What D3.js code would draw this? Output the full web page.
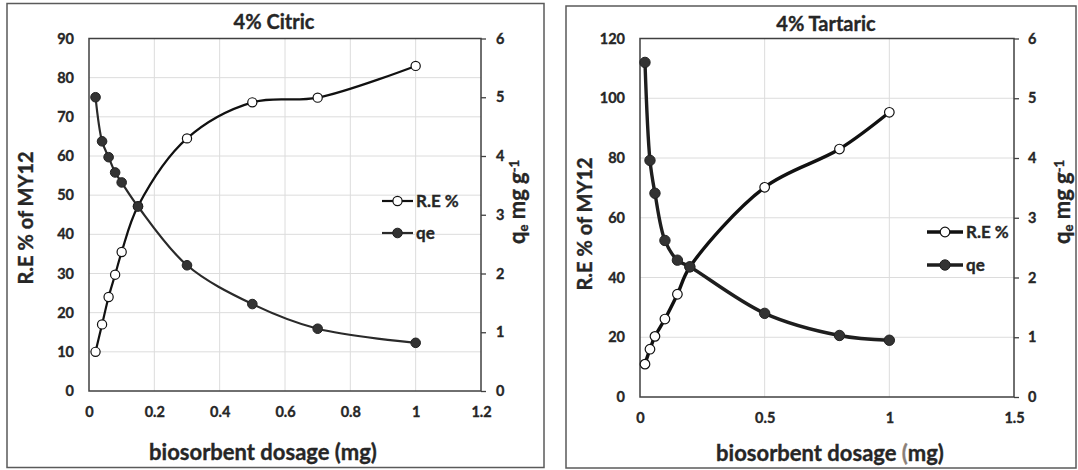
<!DOCTYPE html>
<html>
<head>
<meta charset="utf-8">
<script src="https://cdn.jsdelivr.net/npm/d3@7"></script>
<style>
  body { margin: 0; background: #fff; }
  svg { display: block; font-family: Lato, "Open Sans", "Noto Sans", sans-serif; font-weight: 700; }
  svg text { stroke: #262626; stroke-width: 0.35px; paint-order: stroke; }
</style>
</head>
<body>
<svg id="chart" width="1078" height="470"></svg>
<script>
// Citric acid (4%) modified biosorbent
const citricDosage  = [0.02, 0.04, 0.06, 0.08, 0.1, 0.15, 0.3, 0.5, 0.7, 1.0];
const citricRemoval = [10, 17, 24, 29.7, 35.5, 47.2, 64.5, 73.7, 74.9, 83];
const citricQe      = [5.0, 4.25, 3.98, 3.72, 3.55, 3.14, 2.14, 1.48, 1.06, 0.82];

// Tartaric acid (4%) modified biosorbent
const tartaricDosage  = [0.02, 0.04, 0.06, 0.1, 0.15, 0.2, 0.5, 0.8, 1.0];
const tartaricRemoval = [11, 16, 20.3, 26.1, 34.4, 43.5, 70.2, 83, 95.3];
const tartaricQe      = [5.6, 3.96, 3.41, 2.62, 2.29, 2.18, 1.4, 1.03, 0.95];

// Axis ticks
const citricXTicks         = [0, 0.2, 0.4, 0.6, 0.8, 1, 1.2];
const citricRemovalTicks   = [0, 10, 20, 30, 40, 50, 60, 70, 80, 90];
const tartaricXTicks       = [0, 0.5, 1, 1.5];
const tartaricRemovalTicks = [0, 20, 40, 60, 80, 100, 120];
const qeTicks              = [0, 1, 2, 3, 4, 5, 6];

const seriesNames = ["R.E %", "qe"];

const svg = d3.select("#chart");
const TEXT = "#262626";

function drawPanel(p) {
  const g = svg.append("g");

  // panel frame
  g.append("rect")
    .attr("x", p.frame[0]).attr("y", p.frame[1])
    .attr("width", p.frame[2]).attr("height", p.frame[3])
    .attr("fill", "#fff").attr("stroke", "#5a5a5a").attr("stroke-width", 1.5);

  const x = d3.scaleLinear().domain(d3.extent(p.xTicks)).range([p.left, p.right]);
  const yL = d3.scaleLinear().domain(d3.extent(p.yTicks)).range([p.bottom, p.top]);
  const yR = d3.scaleLinear().domain(d3.extent(qeTicks)).range([p.bottom, p.top]);

  // gridlines
  g.append("g").selectAll("line.v").data(p.xTicks.slice(1, -1)).join("line")
    .attr("x1", d => x(d)).attr("x2", d => x(d))
    .attr("y1", p.top).attr("y2", p.bottom)
    .attr("stroke", "#dcdcdc").attr("stroke-width", 1);
  g.append("g").selectAll("line.h").data(p.yTicks.slice(1, -1)).join("line")
    .attr("x1", p.left).attr("x2", p.right)
    .attr("y1", d => yL(d)).attr("y2", d => yL(d))
    .attr("stroke", "#dcdcdc").attr("stroke-width", 1);

  // axes
  const styleAxis = sel => {
    sel.select(".domain").remove();
    sel.selectAll("text").attr("fill", TEXT).style("font-size", "14.5px").style("font-weight", 700)
      .style("font-family", "Lato, 'Open Sans', sans-serif");
    sel.selectAll("line").attr("stroke", "#404040").attr("stroke-width", 1.3);
  };
  g.append("g").attr("transform", `translate(0,${p.bottom})`)
    .call(d3.axisBottom(x).tickValues(p.xTicks).tickSize(0).tickPadding(16).tickFormat(d => String(d)))
    .call(styleAxis);
  g.append("g").attr("transform", `translate(${p.left},0)`)
    .call(d3.axisLeft(yL).tickValues(p.yTicks).tickSize(0).tickPadding(15).tickFormat(d => String(d)))
    .call(styleAxis);
  g.append("g").attr("transform", `translate(${p.right},0)`)
    .call(d3.axisRight(yR).tickValues(qeTicks).tickSize(5).tickPadding(p.rightPad).tickFormat(d => String(d)))
    .call(styleAxis);

  // plot area border
  g.append("rect")
    .attr("x", p.left).attr("y", p.top)
    .attr("width", p.right - p.left).attr("height", p.bottom - p.top)
    .attr("fill", "none").attr("stroke", "#404040").attr("stroke-width", 1.5);

  // series
  const reData = p.dose.map((d, i) => [d, p.removal[i]]);
  const qeData = p.dose.map((d, i) => [d, p.qe[i]]);
  const curve = d3.curveCatmullRom.alpha(0.5);

  g.append("path").datum(reData)
    .attr("d", d3.line().x(d => x(d[0])).y(d => yL(d[1])).curve(curve))
    .attr("fill", "none").attr("stroke", "#111").attr("stroke-width", p.lw);
  g.append("path").datum(qeData)
    .attr("d", d3.line().x(d => x(d[0])).y(d => yR(d[1])).curve(curve))
    .attr("fill", "none").attr("stroke", p.qeColor).attr("stroke-width", p.lw);

  g.append("g").selectAll("circle").data(reData).join("circle")
    .attr("cx", d => x(d[0])).attr("cy", d => yL(d[1])).attr("r", p.rOpen)
    .attr("fill", "#fff").attr("stroke", "#111").attr("stroke-width", 1.2);
  g.append("g").selectAll("circle").data(qeData).join("circle")
    .attr("cx", d => x(d[0])).attr("cy", d => yR(d[1])).attr("r", p.rFill)
    .attr("fill", "#333").attr("stroke", "#222").attr("stroke-width", 1);

  // legend
  const leg = g.append("g");
  seriesNames.forEach((name, i) => {
    const ly = p.legY[i];
    leg.append("line").attr("x1", p.legX[0]).attr("x2", p.legX[1]).attr("y1", ly).attr("y2", ly)
      .attr("stroke", i === 0 ? "#111" : p.qeColor).attr("stroke-width", p.lw);
    leg.append("circle").attr("cx", (p.legX[0] + p.legX[1]) / 2).attr("cy", ly)
      .attr("r", i === 0 ? p.rOpen : p.rFill)
      .attr("fill", i === 0 ? "#fff" : "#333").attr("stroke", i === 0 ? "#111" : "#222")
      .attr("stroke-width", i === 0 ? 1.2 : 1);
    leg.append("text").attr("x", p.legX[1] + 3).attr("y", ly).attr("dy", "0.35em")
      .attr("fill", TEXT).style("font-size", "17px").text(name);
  });

  // titles
  g.append("text").attr("x", p.titleX).attr("y", p.titleY).attr("text-anchor", "middle")
    .attr("dy", "0.35em").attr("fill", TEXT).style("font-size", "20px").text(p.title);

  const xt = g.append("text").attr("x", p.xTitleX).attr("y", p.xTitleY).attr("text-anchor", "middle")
    .attr("dy", "0.35em").attr("fill", TEXT).style("font-size", "22px");
  xt.append("tspan").text("biosorbent dosage ");
  xt.append("tspan").attr("fill", p.parenColor).attr("stroke", p.parenColor).text("(");
  xt.append("tspan").text("mg)");

  g.append("text").attr("transform", `translate(${p.yTitleX},${p.yTitleY}) rotate(-90)`)
    .attr("text-anchor", "middle").attr("dy", "0.35em").attr("fill", TEXT)
    .style("font-size", "20px").text("R.E % of MY12");

  const qt = g.append("text").attr("transform", `translate(${p.qTitleX},${p.qTitleY}) rotate(-90)`)
    .attr("text-anchor", "middle").attr("dy", "0.35em").attr("fill", TEXT).style("font-size", "22px");
  qt.append("tspan").text("q");
  qt.append("tspan").attr("baseline-shift", "-25%").style("font-size", "13px").text("e");
  qt.append("tspan").text(" mg g");
  qt.append("tspan").attr("baseline-shift", "45%").style("font-size", "13px").text("-1");
}

drawPanel({
  frame: [7, 3.5, 537, 464],
  left: 89, right: 481, top: 38.5, bottom: 391,
  xTicks: citricXTicks, yTicks: citricRemovalTicks, rightPad: 10,
  dose: citricDosage, removal: citricRemoval, qe: citricQe,
  lw: 2.2, rOpen: 4.6, rFill: 4.8, qeColor: "#2a2a2a",
  legX: [382, 413], legY: [201, 233],
  title: "4% Citric", titleX: 274, titleY: 22,
  xTitleX: 263, xTitleY: 452, parenColor: TEXT,
  yTitleX: 26, yTitleY: 218, qTitleX: 517, qTitleY: 202
});

drawPanel({
  frame: [566, 6, 510, 462],
  left: 640, right: 1014, top: 38.5, bottom: 397,
  xTicks: tartaricXTicks, yTicks: tartaricRemovalTicks, rightPad: 9,
  dose: tartaricDosage, removal: tartaricRemoval, qe: tartaricQe,
  lw: 3.4, rOpen: 4.8, rFill: 5.2, qeColor: "#1e1e1e",
  legX: [927, 963], legY: [232, 265],
  title: "4% Tartaric", titleX: 826, titleY: 24,
  xTitleX: 830, xTitleY: 453, parenColor: "#8a7f78",
  yTitleX: 585, yTitleY: 224, qTitleX: 1062, qTitleY: 202
});
</script>
</body>
</html>
